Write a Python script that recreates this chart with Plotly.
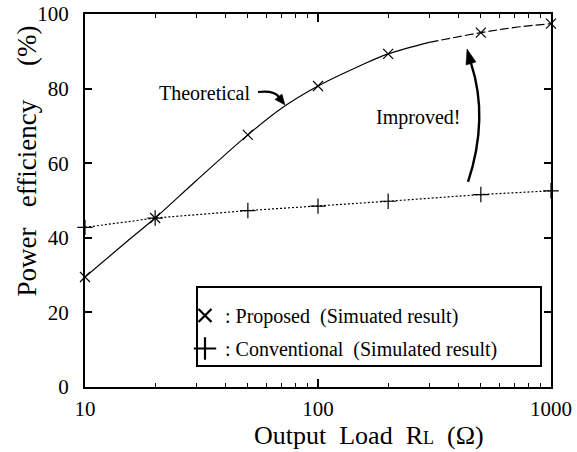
import plotly.graph_objects as go

# ---- data ----
load_ohm = [10, 20, 50, 100, 200, 500, 1000]
proposed_sim = [29.5, 45.3, 67.6, 80.7, 89.3, 95.0, 97.4]
conventional_sim = [42.8, 45.3, 47.3, 48.5, 49.8, 51.6, 52.6]

theo_solid_x = [10, 15, 20, 30, 50, 70, 100, 150, 200, 300]
theo_solid_y = [29.5, 38.8, 45.3, 55.3, 67.6, 74.8, 80.7, 86.0, 89.3, 92.4]
theo_dash_x = [300, 500, 700, 1000]
theo_dash_y = [92.4, 95.0, 96.4, 97.4]

y_ticks = [0, 20, 40, 60, 80, 100]
x_ticks = [10, 100, 1000]
x_minor = [20, 30, 40, 50, 60, 70, 80, 90, 200, 300, 400, 500, 600, 700, 800, 900]

FONT = "Liberation Serif, Times New Roman, serif"
W, H = 577, 452
L, R, T, B = 85, 551, 14, 387


def px2paper(px, py):
    return (px - L) / (R - L), (B - py) / (B - T)


def path(points, cmd):
    out = []
    for c, pts in zip(cmd, points):
        s = " ".join("%.4f,%.4f" % px2paper(*p) for p in pts)
        out.append(c + " " + s)
    return " ".join(out)


fig = go.Figure()

fig.add_trace(go.Scatter(x=theo_solid_x, y=theo_solid_y, mode="lines",
                         line=dict(color="black", width=1.2, shape="spline"),
                         showlegend=False, hoverinfo="skip"))
fig.add_trace(go.Scatter(x=theo_dash_x, y=theo_dash_y, mode="lines",
                         line=dict(color="black", width=1.2, shape="spline", dash="9px,3px"),
                         showlegend=False, hoverinfo="skip"))
fig.add_trace(go.Scatter(x=load_ohm, y=conventional_sim, mode="lines+markers",
                         line=dict(color="black", width=1.2, dash="2px,2px"),
                         marker=dict(symbol="cross-thin", size=11, line=dict(color="black", width=1.2)),
                         cliponaxis=False, showlegend=False))
fig.add_trace(go.Scatter(x=load_ohm, y=proposed_sim, mode="markers",
                         marker=dict(symbol="x-thin", size=10, line=dict(color="black", width=1.2)),
                         cliponaxis=False, showlegend=False))

# legend entries
fig.add_trace(go.Scatter(x=[None], y=[None], mode="markers", legendgroup="a",
                         name=": Proposed\u00a0\u00a0(Simuated result)",
                         marker=dict(symbol="x-thin", size=13, line=dict(color="black", width=2.2))))
fig.add_trace(go.Scatter(x=[None], y=[None], mode="markers", legendgroup="b",
                         name=": Conventional\u00a0\u00a0(Simulated result)",
                         marker=dict(symbol="cross-thin", size=16, line=dict(color="black", width=2.2))))

shapes = []
# legend frame
x0, y0 = px2paper(197, 366)
x1, y1 = px2paper(541, 287)
shapes.append(dict(type="rect", xref="paper", yref="paper", x0=x0, y0=y0, x1=x1, y1=y1,
                   line=dict(color="black", width=2)))
# "Theoretical" curved arrow
shapes.append(dict(type="path", xref="paper", yref="paper",
                   path=path([[(258, 92)], [(274, 90), (279, 97)]], ["M", "Q"]),
                   line=dict(color="black", width=2.2)))
shapes.append(dict(type="path", xref="paper", yref="paper",
                   path=path([[(285, 105)], [(275, 99.5)], [(282, 94)]], ["M", "L", "L"]) + " Z",
                   line=dict(color="black", width=0.5), fillcolor="black"))
# "Improved!" curved arrow
shapes.append(dict(type="path", xref="paper", yref="paper",
                   path=path([[(468, 182)], [(489, 118), (471, 63)]], ["M", "Q"]),
                   line=dict(color="black", width=2.4)))
shapes.append(dict(type="path", xref="paper", yref="paper",
                   path=path([[(467, 49)], [(476, 62)], [(466, 65)]], ["M", "L", "L"]) + " Z",
                   line=dict(color="black", width=0.5), fillcolor="black"))

annotations = [
    dict(text="Theoretical", xref="paper", yref="paper",
         x=px2paper(204, 0)[0], y=px2paper(0, 93)[1], showarrow=False,
         font=dict(family=FONT, size=20, color="black"), xanchor="center", yanchor="middle"),
    dict(text="Improved!", xref="paper", yref="paper",
         x=px2paper(418, 0)[0], y=px2paper(0, 118)[1], showarrow=False,
         font=dict(family=FONT, size=20, color="black"), xanchor="center", yanchor="middle"),
    dict(text="Output\u00a0\u00a0Load\u00a0\u00a0R<span style='font-size:18px'>L</span>\u00a0\u00a0(\u03a9)",
         xref="paper", yref="paper", x=px2paper(369, 0)[0], y=px2paper(0, 435)[1],
         showarrow=False, font=dict(family=FONT, size=26, color="black"),
         xanchor="center", yanchor="middle"),
    dict(text="Power\u00a0\u00a0\u00a0efficiency\u00a0\u00a0\u00a0\u00a0\u00a0(%)",
         xref="paper", yref="paper", x=px2paper(26, 0)[0], y=px2paper(0, 24)[1],
         showarrow=False, textangle=-90, font=dict(family=FONT, size=27, color="black"),
         xanchor="center", yanchor="top"),
]

axis_common = dict(showline=True, linecolor="black", linewidth=2, mirror="ticks",
                   ticks="inside", tickcolor="black", showgrid=False, zeroline=False,
                   tickfont=dict(family=FONT, size=21, color="black"))

lx, ly = px2paper(185, 296)
fig.update_layout(
    width=W, height=H,
    margin=dict(l=L, r=W - R, t=T, b=H - B, autoexpand=False),
    paper_bgcolor="white", plot_bgcolor="white",
    shapes=shapes, annotations=annotations,
    xaxis=dict(type="log", range=[1, 3], tickvals=x_ticks, ticktext=[str(v) for v in x_ticks],
               ticklen=8, tickwidth=1.5, ticklabelstandoff=2,
               minor=dict(tickvals=x_minor, ticks="inside", ticklen=4, tickcolor="black", tickwidth=1.2),
               **axis_common),
    yaxis=dict(range=[0, 100], tickvals=y_ticks, ticklen=7, tickwidth=1.5, ticklabelstandoff=10,
               **axis_common),
    legend=dict(x=lx, y=ly, xanchor="left", yanchor="top",
                borderwidth=0, bgcolor="rgba(0,0,0,0)",
                font=dict(family=FONT, size=20, color="black"), tracegroupgap=4,
                itemwidth=30),
)

fig.write_html("out.html")
